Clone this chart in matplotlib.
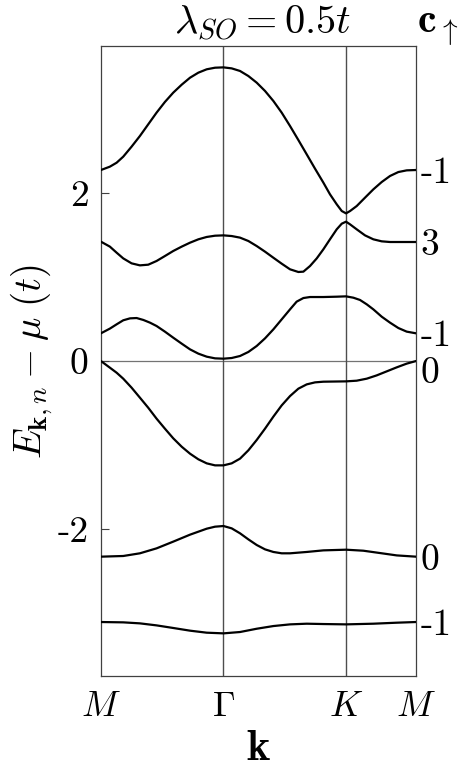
import matplotlib
matplotlib.use("Agg")
import matplotlib.pyplot as plt

plt.rcParams['mathtext.fontset'] = 'cm'
plt.rcParams['font.family'] = 'cmr10'
plt.rcParams['axes.unicode_minus'] = False

# high-symmetry points (path coordinate)
sym_pos = [0.0, 1.0, 2.0, 2.571]
sym_labels = [r'$M$', r'$\Gamma$', r'$K$', r'$M$']

# bands
b1_x = [0.0, 0.073, 0.128, 0.182, 0.250, 0.318, 0.386, 0.454, 0.522, 0.590, 0.659, 0.727, 0.795, 0.863, 0.931, 1.0,
        1.067, 1.135, 1.203, 1.271, 1.339, 1.407, 1.475, 1.543, 1.611, 1.679, 1.747, 1.815, 1.869, 1.924, 1.965, 2.0,
        2.033, 2.087, 2.155, 2.223, 2.291, 2.359, 2.427, 2.495, 2.571]
b1_y = [2.274, 2.314, 2.361, 2.433, 2.552, 2.679, 2.818, 2.957, 3.084, 3.195, 3.290, 3.373, 3.433, 3.473, 3.492, 3.496,
        3.484, 3.453, 3.393, 3.314, 3.215, 3.096, 2.957, 2.798, 2.631, 2.461, 2.290, 2.124, 1.985, 1.866, 1.786, 1.758,
        1.786, 1.845, 1.945, 2.044, 2.131, 2.203, 2.250, 2.270, 2.274]

b2_x = [0.0, 0.073, 0.128, 0.182, 0.250, 0.318, 0.386, 0.454, 0.522, 0.590, 0.659, 0.727, 0.795, 0.863, 0.931, 1.0,
        1.067, 1.135, 1.203, 1.271, 1.339, 1.407, 1.475, 1.543, 1.611, 1.652, 1.706, 1.761, 1.815, 1.869, 1.924, 1.965, 2.0,
        2.033, 2.087, 2.155, 2.223, 2.291, 2.359, 2.571]
b2_y = [1.421, 1.362, 1.290, 1.222, 1.163, 1.139, 1.147, 1.191, 1.250, 1.310, 1.362, 1.409, 1.449, 1.477, 1.492, 1.496,
        1.488, 1.469, 1.429, 1.369, 1.302, 1.230, 1.159, 1.092, 1.060, 1.064, 1.131, 1.222, 1.330, 1.449, 1.568, 1.635, 1.659,
        1.627, 1.568, 1.496, 1.449, 1.425, 1.417, 1.417]

b3_x = [0.0, 0.073, 0.128, 0.182, 0.237, 0.291, 0.346, 0.400, 0.454, 0.522, 0.590, 0.659, 0.727, 0.795, 0.863, 0.931, 1.0,
        1.067, 1.135, 1.203, 1.271, 1.339, 1.407, 1.475, 1.543, 1.597, 1.652, 1.706, 1.815, 1.924, 2.0,
        2.060, 2.114, 2.169, 2.223, 2.291, 2.359, 2.427, 2.495, 2.571]
b3_y = [0.330, 0.386, 0.437, 0.485, 0.508, 0.512, 0.489, 0.457, 0.417, 0.350, 0.278, 0.207, 0.139, 0.088, 0.052, 0.032, 0.028,
        0.036, 0.060, 0.108, 0.179, 0.270, 0.377, 0.496, 0.615, 0.707, 0.750, 0.762, 0.762, 0.766, 0.770,
        0.754, 0.727, 0.675, 0.615, 0.528, 0.457, 0.393, 0.350, 0.330]

b4_x = [0.0, 0.073, 0.128, 0.182, 0.250, 0.318, 0.386, 0.454, 0.522, 0.590, 0.659, 0.727, 0.795, 0.863, 0.931, 1.0,
        1.067, 1.135, 1.203, 1.271, 1.339, 1.407, 1.475, 1.543, 1.611, 1.679, 1.747, 1.815, 2.0,
        2.087, 2.169, 2.250, 2.332, 2.414, 2.495, 2.571]
b4_y = [0.0, -0.079, -0.139, -0.210, -0.317, -0.436, -0.556, -0.686, -0.805, -0.920, -1.020, -1.103, -1.170, -1.218, -1.242, -1.242,
        -1.218, -1.162, -1.063, -0.940, -0.805, -0.662, -0.528, -0.417, -0.329, -0.278, -0.254, -0.246, -0.242,
        -0.234, -0.210, -0.171, -0.123, -0.075, -0.031, 0.0]

b5_x = [0.0, 0.182, 0.318, 0.454, 0.590, 0.727, 0.863, 0.931, 1.0, 1.067, 1.135, 1.203, 1.271, 1.339, 1.407, 1.475,
        1.543, 1.679, 1.815, 2.0, 2.141, 2.278, 2.414, 2.571]
b5_y = [-2.329, -2.321, -2.289, -2.230, -2.150, -2.067, -1.996, -1.972, -1.964, -1.992, -2.051, -2.123, -2.190, -2.242, -2.273, -2.289,
        -2.289, -2.273, -2.254, -2.246, -2.258, -2.286, -2.314, -2.329]

b6_x = [0.0, 0.182, 0.318, 0.454, 0.590, 0.727, 0.863, 1.0, 1.135, 1.271, 1.407, 1.543, 1.679, 1.815, 2.0, 2.223, 2.414, 2.571]
b6_y = [-3.107, -3.111, -3.123, -3.147, -3.178, -3.210, -3.234, -3.242, -3.226, -3.187, -3.155, -3.135, -3.127, -3.131, -3.135, -3.127, -3.115, -3.107]

bands = [(b1_x, b1_y), (b2_x, b2_y), (b3_x, b3_y), (b4_x, b4_y), (b5_x, b5_y), (b6_x, b6_y)]

# Chern numbers (right side labels) and their positions
chern_pos = [2.274, 1.42, 0.33, -0.1, -2.33, -3.107]
chern_labels = ['-1', '3', '-1', '0', '0', '-1']

yticks = [-2, 0, 2]
ytick_labels = ['-2', '0', '2']

fig = plt.figure(figsize=(4.63, 7.75), dpi=100)
ax = fig.add_axes([0.218, 0.1277, 0.6805, 0.8129])

axcol = '0.25'
ax.axhline(0, color='0.45', lw=0.9, zorder=1)
for xp in sym_pos[1:3]:
    ax.axvline(xp, color='0.3', lw=1.0, zorder=1)
for bx, by in bands:
    ax.plot(bx, by, color='black', lw=1.6, zorder=3, solid_joinstyle='round', solid_capstyle='round')

ax.set_xlim(sym_pos[0], sym_pos[-1])
ax.set_ylim(-3.75, 3.75)
ax.set_xticks(sym_pos)
ax.set_xticklabels(sym_labels, fontsize=26)
ax.set_yticks(yticks)
ax.set_yticklabels(ytick_labels, fontsize=27)
ax.tick_params(axis='x', length=0, pad=11)
ax.tick_params(axis='y', direction='in', length=6, width=0.8, color=axcol, right=True, pad=9)
for s in ax.spines.values():
    s.set_color(axcol)
    s.set_linewidth(0.9)

ax2 = ax.twinx()
ax2.set_ylim(ax.get_ylim())
ax2.set_yticks(chern_pos)
ax2.set_yticklabels(chern_labels, fontsize=27)
ax2.tick_params(axis='y', length=0, pad=3)
for s in ax2.spines.values():
    s.set_visible(False)

ax.set_ylabel(r'$E_{\mathbf{k},n} - \mu\ (t)$', fontsize=28, labelpad=2)
ax.set_xlabel(r'$\mathbf{k}$', fontsize=32, labelpad=4)

fig.text(0.566, 0.970, r'$\lambda_{SO} = 0.5t$', fontsize=29, ha='center', va='center')
fig.text(0.945, 0.962, r'$\mathbf{c}_{\uparrow}$', fontsize=30, ha='center', va='center')

fig.savefig('out.png', dpi=100)
